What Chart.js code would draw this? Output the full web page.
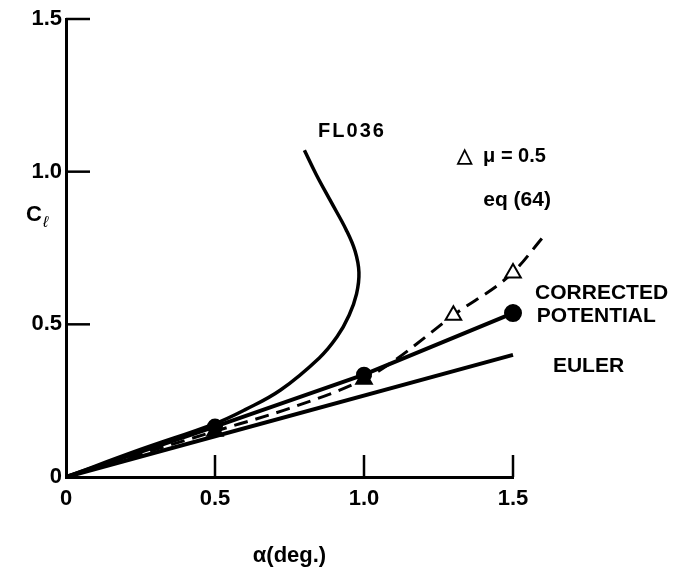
<!DOCTYPE html>
<html>
<head>
<meta charset="utf-8">
<script src="https://cdn.jsdelivr.net/npm/chart.js@4.4.1/dist/chart.umd.min.js"></script>
<style>
  html, body { margin:0; padding:0; background:#fff; }
  #wrap { width:675px; height:571px; }
</style>
</head>
<body>
<div id="wrap"><canvas id="c" width="675" height="571"></canvas></div>
<script>
// values (alpha in deg, Cl)
const flAlpha = [0, 0.25, 0.5, 0.6, 0.72, 0.85, 0.91, 0.95, 0.975, 0.983, 0.97, 0.94, 0.89, 0.84, 0.80];
const flCl    = [0, 0.09, 0.175, 0.22, 0.285, 0.39, 0.46, 0.53, 0.60, 0.67, 0.74, 0.81, 0.90, 0.99, 1.07];

const eulerAlpha = [0, 1.5];
const eulerCl    = [0, 0.40];

const corrAlpha = [0, 0.5, 1.0, 1.5];
const corrCl    = [0, 0.165, 0.335, 0.537];

const eqAlpha = [0, 0.5, 0.75, 1.0, 1.1, 1.3, 1.5, 1.6];
const eqCl    = [0, 0.15, 0.225, 0.32, 0.38, 0.53, 0.67, 0.785];

const muAlpha = [0.5, 1.0, 1.3, 1.5];
const muCl    = [0.15, 0.32, 0.53, 0.668];

const xTicks = [0.5, 1.0, 1.5];
const yTicks = [0.5, 1.0, 1.5];

const FONT = '"Liberation Sans", Arial, sans-serif';

function pts(xs, ys){ return xs.map((x,i)=>({x, y: ys[i]})); }

// text notes placed in data coords
const notes = [
  { text: 'FL036', x: 0.846, y: 1.13, size: 20, spacing: 2 },
  { text: '\u25B3  \u03BC = 0.5', x: 1.312, y: 1.051, size: 20 },
  { text: 'eq (64)', x: 1.40, y: 0.907, size: 21 },
  { text: 'CORRECTED', x: 1.574, y: 0.603, size: 21 },
  { text: 'POTENTIAL', x: 1.58, y: 0.527, size: 21 },
  { text: 'EULER', x: 1.634, y: 0.364, size: 21 }
];

const extras = {
  id: 'extras',
  afterDraw(chart){
    const {ctx, scales:{x, y}} = chart;
    ctx.save();
    ctx.strokeStyle = '#000';
    ctx.lineWidth = 2.5;
    // inward tick marks
    xTicks.forEach(v=>{
      const px = x.getPixelForValue(v);
      ctx.beginPath(); ctx.moveTo(px, y.bottom); ctx.lineTo(px, y.bottom - 22); ctx.stroke();
    });
    yTicks.forEach(v=>{
      const py = y.getPixelForValue(v);
      ctx.beginPath(); ctx.moveTo(x.left, py); ctx.lineTo(x.left + 24, py); ctx.stroke();
    });
    // annotations
    ctx.fillStyle = '#000';
    ctx.textBaseline = 'middle';
    ctx.textAlign = 'left';
    notes.forEach(n=>{
      ctx.font = `bold ${n.size}px ${FONT}`;
      ctx.letterSpacing = (n.spacing || 0) + 'px';
      ctx.fillText(n.text, x.getPixelForValue(n.x), y.getPixelForValue(n.y));
    });
    ctx.letterSpacing = '0px';
    // y axis title C_l
    ctx.textBaseline = 'alphabetic';
    ctx.font = `bold 22px ${FONT}`;
    ctx.fillText('C', 26, 221);
    ctx.font = `italic 16px ${FONT}`;
    ctx.fillText('\u2113', 43, 227);
    ctx.restore();
  }
};

new Chart(document.getElementById('c'), {
  type: 'scatter',
  data: {
    datasets: [
      { label: 'mu', data: pts(muAlpha, muCl), showLine: false, pointStyle: 'triangle', clip: false,
        pointRadius: 9, pointBorderWidth: 2, pointBorderColor: '#000',
        pointBackgroundColor: ['#000', '#000', '#fff', '#fff'] },
      { label: 'corrected', data: pts(corrAlpha, corrCl), showLine: true, borderColor: '#000', clip: false,
        borderWidth: 4, pointRadius: [0, 6, 6, 7], pointBackgroundColor: '#000', pointBorderColor: '#000' },
      { label: 'euler', data: pts(eulerAlpha, eulerCl), showLine: true, borderColor: '#000', clip: false,
        borderWidth: 4, pointRadius: 0 },
      { label: 'eq64', data: pts(eqAlpha, eqCl), showLine: true, borderColor: '#000', clip: false,
        borderWidth: 3, borderDash: [14, 8], pointRadius: 0, cubicInterpolationMode: 'monotone' },
      { label: 'FL036', data: pts(flAlpha, flCl), showLine: true, borderColor: '#000', clip: false,
        borderWidth: 3.5, pointRadius: 0, tension: 0.4 }
    ]
  },
  options: {
    responsive: false,
    animation: false,
    layout: { padding: { top: 19, right: 162, bottom: 0, left: 0 } },
    plugins: { legend: { display: false }, tooltip: { enabled: false } },
    scales: {
      x: {
        type: 'linear',
        // range set here (not via max) so the eq (64) line may run past 1.5
        afterDataLimits(scale){ scale.min = 0; scale.max = 1.5; },
        grid: { display: false, drawTicks: false },
        border: { display: true, color: '#000', width: 3 },
        ticks: { stepSize: 0.5, padding: 9, color: '#000',
          font: { family: FONT, size: 22, weight: 'bold' },
          callback: v => v === 0 ? '0' : v.toFixed(1) },
        title: { display: true, text: '\u03B1(deg.)', color: '#000',
          font: { family: FONT, size: 22, weight: 'bold' }, padding: { top: 4, bottom: 2 } },
        afterFit(scale){ scale.height = 94; }
      },
      y: {
        type: 'linear', min: 0, max: 1.5,
        grid: { display: false, drawTicks: false },
        border: { display: true, color: '#000', width: 3 },
        ticks: { stepSize: 0.5, padding: 4, color: '#000',
          font: { family: FONT, size: 22, weight: 'bold' },
          callback: v => v === 0 ? '0' : v.toFixed(1) },
        afterFit(scale){ scale.width = 66; }
      }
    }
  },
  plugins: [extras]
});
</script>
</body>
</html>
